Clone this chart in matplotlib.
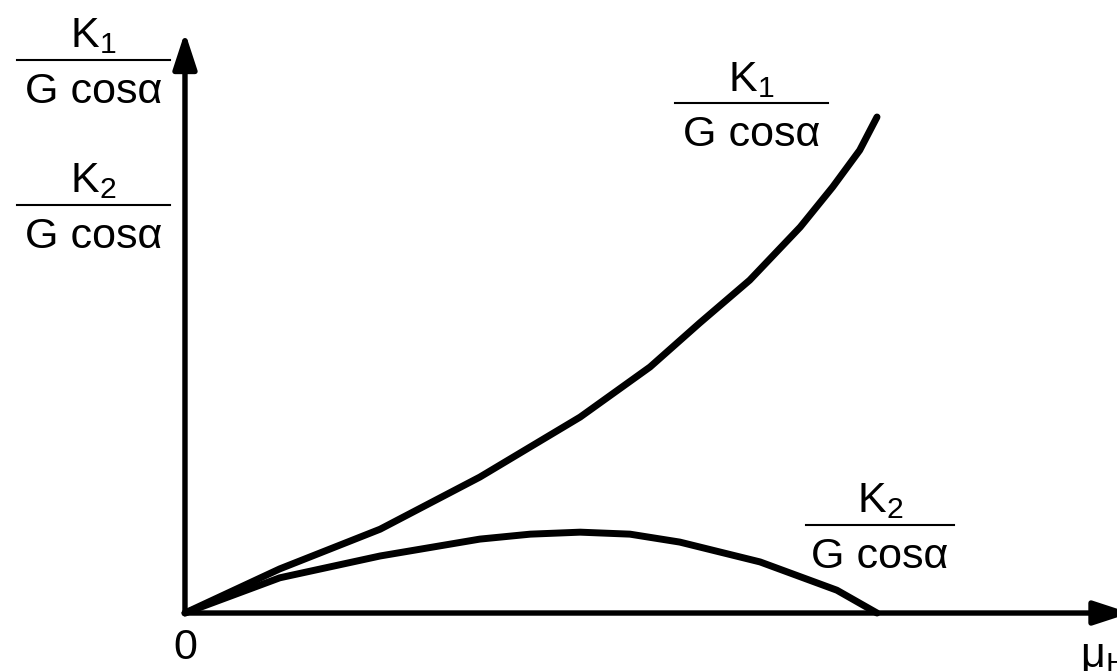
import matplotlib.pyplot as plt

plt.rcParams['font.family'] = ['Liberation Sans', 'DejaVu Sans']
plt.rcParams['mathtext.fontset'] = 'custom'
plt.rcParams['mathtext.rm'] = 'Liberation Sans'

# friction coefficient (relative) and normalised forces
mu1 = [0.0, 0.137, 0.282, 0.426, 0.571, 0.672, 0.744, 0.816, 0.889, 0.936,
       0.975, 1.0]
k1 = [0.0, 0.089, 0.169, 0.274, 0.395, 0.496, 0.585, 0.671, 0.778, 0.859,
      0.933, 1.0]
mu2 = [0.0, 0.137, 0.282, 0.426, 0.499, 0.571, 0.643, 0.715, 0.831, 0.942, 1.0]
k2 = [0.0, 0.071, 0.115, 0.149, 0.159, 0.163, 0.159, 0.143, 0.103, 0.046, 0.0]

x_max, y_max = 1.366, 1.171
FS = 31

fig = plt.figure(figsize=(11.17, 6.71), dpi=100)
ax = fig.add_axes([0, 0, 1, 1])
ax.set_xlim(-0.2673, 1.3468)
ax.set_ylim(-0.1169, 1.2359)
ax.axis('off')

# axes with arrows
arr = dict(arrowstyle='-|>,head_length=1.1,head_width=0.36', lw=3.9,
           color='black', shrinkA=0, shrinkB=0, mutation_scale=20)
ax.annotate('', xy=(x_max, 0), xytext=(0, 0), arrowprops=arr, annotation_clip=False)
ax.annotate('', xy=(0, y_max), xytext=(0, 0), arrowprops=arr)

for xs, ys in [(mu1, k1), (mu2, k2)]:
    ax.plot(xs, ys, color='black', lw=5, solid_capstyle='round',
            solid_joinstyle='round')


def frac(xc, yline, half, num):
    ax.plot([xc - half, xc + half], [yline, yline], color='black', lw=1.5)
    ax.annotate(num, (xc, yline), xytext=(0, 9), textcoords='offset points',
                fontsize=FS, ha='center', va='baseline')
    ax.annotate('G cos\u03b1', (xc, yline), xytext=(0, -31),
                textcoords='offset points', fontsize=FS, ha='center',
                va='baseline')


frac(-0.1322, 1.115, 0.1105, r'$\mathregular{K_1}$')
frac(-0.1322, 0.8226, 0.1105, r'$\mathregular{K_2}$')
frac(0.8187, 1.028, 0.1106, r'$\mathregular{K_1}$')
frac(1.004, 0.1774, 0.107, r'$\mathregular{K_2}$')

ax.text(0, -0.0706, '0', fontsize=FS, ha='center', va='center')
ax.text(1.293, -0.088, r'$\mathregular{\mu_H}$', fontsize=FS, ha='left',
        va='center')

fig.savefig('out.png', dpi=100)
